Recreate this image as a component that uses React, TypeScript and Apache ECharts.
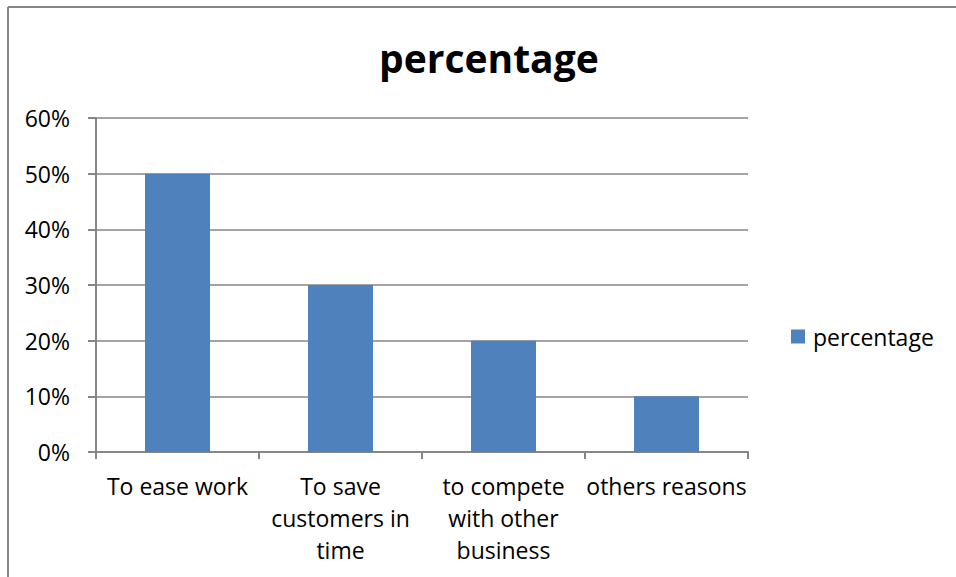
import React, { useEffect, useRef } from "react";
import * as echarts from "echarts";

const categories = [
  "To ease work",
  "To save\ncustomers in\ntime",
  "to compete\nwith other\nbusiness",
  "others reasons",
];
const seriesName = "percentage";
const values = [0.5, 0.3, 0.2, 0.1];
const titleText = "percentage";

const FONT = "'Open Sans', sans-serif";
const GRAY = "#868686";

export default function App() {
  const ref = useRef<HTMLDivElement>(null);
  useEffect(() => {
    if (!ref.current) return;
    const chart = echarts.init(ref.current, undefined, { renderer: "svg" });
    chart.setOption({
      animation: false,
      backgroundColor: "#ffffff",
      textStyle: { fontFamily: FONT, color: "#000" },
      title: {
        text: titleText,
        left: 379,
        top: 38,
        padding: 0,
        textStyle: { fontFamily: FONT, fontSize: 39, fontWeight: "bold", color: "#000" },
      },
      legend: {
        data: [seriesName],
        left: 791,
        top: 325,
        padding: 0,
        itemWidth: 14,
        itemHeight: 14,
        icon: "rect",
        textStyle: { fontFamily: FONT, fontSize: 23, color: "#000", padding: [0, 0, 0, 3] },
      },
      grid: { left: 96, right: 208, top: 118, bottom: 125 },
      graphic: [
        {
          type: "line",
          shape: { x1: 8, y1: 7, x2: 956, y2: 7 },
          style: { stroke: GRAY, lineWidth: 2 },
          silent: true,
        },
        {
          type: "line",
          shape: { x1: 8, y1: 7, x2: 8, y2: 577 },
          style: { stroke: GRAY, lineWidth: 2 },
          silent: true,
        },
      ],
      xAxis: {
        type: "category",
        data: categories,
        boundaryGap: true,
        axisLine: { show: true, lineStyle: { color: GRAY, width: 2 } },
        axisTick: { show: true, length: 7, lineStyle: { color: GRAY, width: 2 } },
        axisLabel: {
          interval: 0,
          margin: 18,
          fontFamily: FONT,
          fontSize: 23,
          lineHeight: 32,
          color: "#000",
        },
      },
      yAxis: {
        type: "value",
        min: 0,
        max: 0.6,
        interval: 0.1,
        axisLine: { show: true, lineStyle: { color: GRAY, width: 2 } },
        axisTick: { show: true, length: 8, lineStyle: { color: GRAY, width: 2 } },
        splitLine: { show: true, lineStyle: { color: GRAY, width: 1.5 } },
        axisLabel: {
          margin: 26,
          fontFamily: FONT,
          fontSize: 23,
          color: "#000",
          formatter: (v: number) => Math.round(v * 100) + "%",
        },
      },
      series: [
        {
          name: seriesName,
          type: "bar",
          data: values,
          barWidth: 65,
          itemStyle: { color: "#4F81BD" },
        },
      ],
    });
    return () => chart.dispose();
  }, []);
  return (
    <div
      ref={ref}
      style={{ position: "fixed", left: 0, top: 0, width: 956, height: 577 }}
    />
  );
}
